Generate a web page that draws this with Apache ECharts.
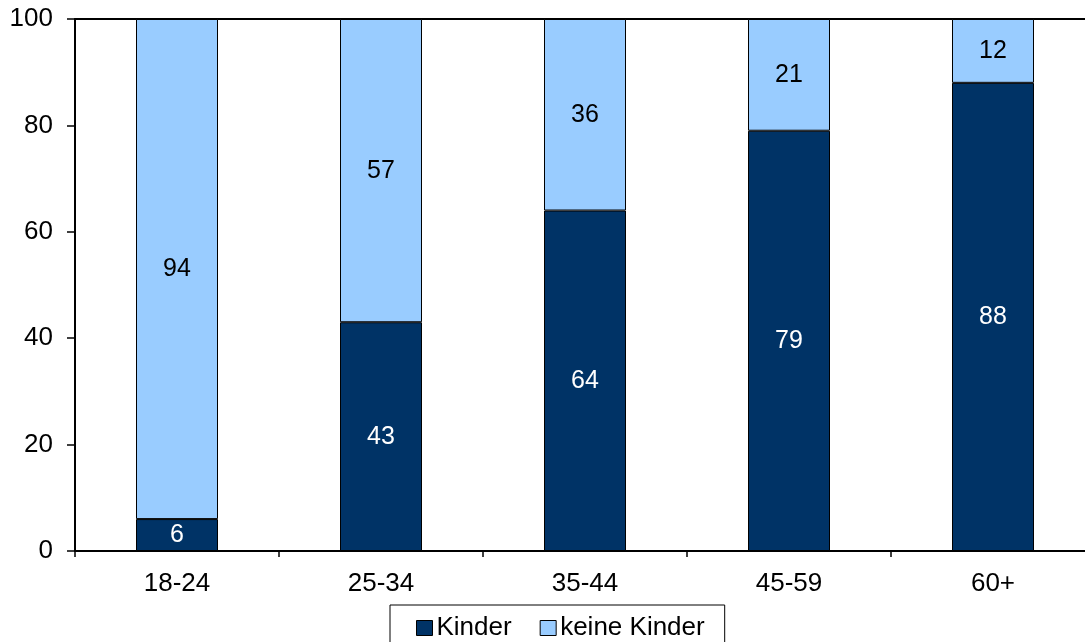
<!DOCTYPE html>
<html>
<head>
    <meta charset="utf-8">
    <title>Kinder nach Alter</title>
    <script src="https://cdn.jsdelivr.net/npm/echarts@6/dist/echarts.min.js"></script>
    <style>
        html, body { margin: 0; padding: 0; background: #fff; }
    </style>
</head>
<body>
    <div id="main" style="width: 1085px;height:642px;"></div>
    <script>
        // Daten
        var categories = ['18-24', '25-34', '35-44', '45-59', '60+'];
        var kinder = [6, 43, 64, 79, 88];
        var keineKinder = [94, 57, 36, 21, 12];
        var yTicks = [0, 20, 40, 60, 80, 100];

        var myChart = echarts.init(document.getElementById('main'));
        var font = 'Arial, "Liberation Sans", sans-serif';

        var option = {
            animation: false,
            backgroundColor: '#ffffff',
            textStyle: { fontFamily: font },
            // Plotbereich läuft rechts über den Rand hinaus (wie im Original)
            grid: { left: 75, width: 1020, top: 19, bottom: 91, containLabel: false, outerBoundsMode: 'none' },
            legend: {
                top: 605,
                left: 390,
                width: 334,
                padding: [10, 20, 8, 26],
                itemGap: 28,
                itemWidth: 16,
                itemHeight: 15,
                borderColor: '#000',
                borderWidth: 1,
                icon: 'rect',
                textStyle: { fontSize: 26, color: '#000', fontFamily: font, padding: [0, 0, 0, -1] },
                data: [
                    { name: 'Kinder', itemStyle: { borderColor: '#000', borderWidth: 1 } },
                    { name: 'keine Kinder', itemStyle: { borderColor: '#000', borderWidth: 1 } }
                ]
            },
            xAxis: [{
                type: 'category',
                data: categories,
                axisLine: { lineStyle: { color: '#000', width: 2 } },
                axisTick: { show: true, length: 6, inside: false, lineStyle: { color: '#000', width: 1.5 } },
                axisLabel: { fontSize: 26, color: '#000', margin: 20 }
            }, {
                type: 'category',
                position: 'top',
                data: categories,
                axisLine: { lineStyle: { color: '#000', width: 2 } },
                axisTick: { show: false },
                axisLabel: { show: false }
            }],
            yAxis: {
                type: 'value',
                min: yTicks[0],
                max: yTicks[yTicks.length - 1],
                interval: 20,
                axisLine: { show: true, lineStyle: { color: '#000', width: 2 } },
                axisTick: { show: true, length: 8, lineStyle: { color: '#000', width: 1.5 } },
                splitLine: { show: false },
                axisLabel: { fontSize: 26, color: '#000', margin: 22 }
            },
            series: [{
                name: 'Kinder',
                type: 'bar',
                stack: 'total',
                barWidth: 82,
                data: kinder,
                itemStyle: { color: '#003366', borderColor: '#000', borderWidth: 1 },
                label: { show: true, position: 'inside', color: '#fff', fontSize: 25, fontFamily: font }
            }, {
                name: 'keine Kinder',
                type: 'bar',
                stack: 'total',
                barWidth: 82,
                data: keineKinder,
                itemStyle: { color: '#99CCFF', borderColor: '#000', borderWidth: 1 },
                label: { show: true, position: 'inside', color: '#000', fontSize: 25, fontFamily: font }
            }]
        };

        myChart.setOption(option);
    </script>
</body>
</html>
